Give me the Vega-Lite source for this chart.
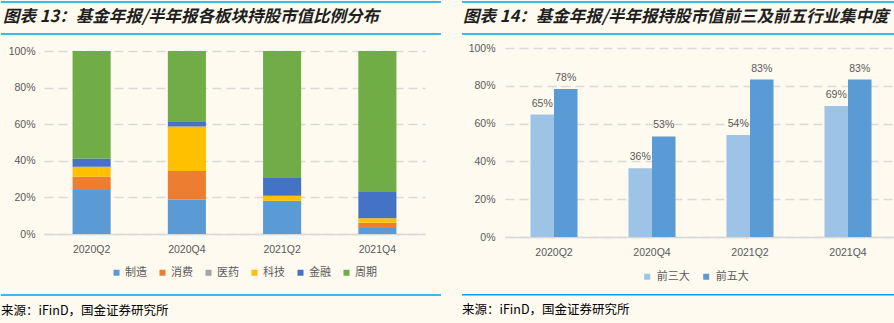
{
  "$schema": "https://vega.github.io/schema/vega-lite/v6.json",
  "background": "#FEFAF0",
  "padding": {"left": 0, "top": 1, "right": 0, "bottom": 0},
  "config": {
    "view": {"stroke": null},
    "font": "Liberation Sans, Noto Sans CJK SC",
    "axis": {"labelColor": "#595959", "labelFontSize": 10.5, "labelFont": "Liberation Sans, Noto Sans CJK SC", "title": null}
  },
  "datasets": {
    "sectors": [
      {"quarter": "2020Q2", "sector": "制造", "k": 1, "share": 0.240},
      {"quarter": "2020Q2", "sector": "消费", "k": 2, "share": 0.073},
      {"quarter": "2020Q2", "sector": "医药", "k": 3, "share": 0.0},
      {"quarter": "2020Q2", "sector": "科技", "k": 4, "share": 0.055},
      {"quarter": "2020Q2", "sector": "金融", "k": 5, "share": 0.045},
      {"quarter": "2020Q2", "sector": "周期", "k": 6, "share": 0.587},
      {"quarter": "2020Q4", "sector": "制造", "k": 1, "share": 0.188},
      {"quarter": "2020Q4", "sector": "消费", "k": 2, "share": 0.156},
      {"quarter": "2020Q4", "sector": "医药", "k": 3, "share": 0.0},
      {"quarter": "2020Q4", "sector": "科技", "k": 4, "share": 0.244},
      {"quarter": "2020Q4", "sector": "金融", "k": 5, "share": 0.028},
      {"quarter": "2020Q4", "sector": "周期", "k": 6, "share": 0.384},
      {"quarter": "2021Q2", "sector": "制造", "k": 1, "share": 0.182},
      {"quarter": "2021Q2", "sector": "消费", "k": 2, "share": 0.0},
      {"quarter": "2021Q2", "sector": "医药", "k": 3, "share": 0.0},
      {"quarter": "2021Q2", "sector": "科技", "k": 4, "share": 0.027},
      {"quarter": "2021Q2", "sector": "金融", "k": 5, "share": 0.101},
      {"quarter": "2021Q2", "sector": "周期", "k": 6, "share": 0.690},
      {"quarter": "2021Q4", "sector": "制造", "k": 1, "share": 0.033},
      {"quarter": "2021Q4", "sector": "消费", "k": 2, "share": 0.029},
      {"quarter": "2021Q4", "sector": "医药", "k": 3, "share": 0.0},
      {"quarter": "2021Q4", "sector": "科技", "k": 4, "share": 0.024},
      {"quarter": "2021Q4", "sector": "金融", "k": 5, "share": 0.147},
      {"quarter": "2021Q4", "sector": "周期", "k": 6, "share": 0.767}
    ],
    "conc": [
      {"quarter": "2020Q2", "group": "前三大", "share": 0.648},
      {"quarter": "2020Q2", "group": "前五大", "share": 0.783},
      {"quarter": "2020Q4", "group": "前三大", "share": 0.364},
      {"quarter": "2020Q4", "group": "前五大", "share": 0.532},
      {"quarter": "2021Q2", "group": "前三大", "share": 0.540},
      {"quarter": "2021Q2", "group": "前五大", "share": 0.833},
      {"quarter": "2021Q4", "group": "前三大", "share": 0.693},
      {"quarter": "2021Q4", "group": "前五大", "share": 0.833}
    ],
    "t1": [{"label": "图表 13：基金年报/半年报各板块持股市值比例分布"}],
    "t2": [{"label": "图表 14：基金年报/半年报持股市值前三及前五行业集中度"}],
    "src": [{"label": "来源：iFinD，国金证券研究所"}]
  },
  "spacing": 19,
  "resolve": {"scale": {"color": "independent", "x": "independent", "y": "independent", "xOffset": "independent"}, "legend": {"color": "independent"}},
  "hconcat": [
    {
      "spacing": 11,
      "vconcat": [
        {
          "width": 397, "height": 32,
          "data": {"name": "t1"},
          "layer": [
            {"mark": {"type": "rule", "color": "#00A2E8", "strokeWidth": 1.5},
             "encoding": {"x": {"datum": -0.1083, "scale": {"domain": [0, 1]}, "axis": null}, "x2": {"datum": 1}, "y": {"datum": 1, "scale": {"domain": [0, 1]}, "axis": null}}},
            {"mark": {"type": "rule", "color": "#00A2E8", "strokeWidth": 1.5},
             "encoding": {"x": {"datum": -0.1083}, "x2": {"datum": 1}, "y": {"datum": 0}}},
            {"mark": {"type": "text", "align": "left", "baseline": "middle", "dx": 2, "font": "Noto Sans CJK SC", "fontSize": 16.5, "fontWeight": "bold", "fontStyle": "italic", "color": "#1F1F1F"},
             "encoding": {"x": {"datum": -0.1083}, "y": {"datum": 0.53}, "text": {"field": "label"}}}
          ]
        },
        {
          "width": 381, "height": 183,
          "data": {"name": "sectors"},
          "mark": {"type": "bar"},
          "encoding": {
            "x": {"field": "quarter", "type": "nominal", "sort": null,
                  "scale": {"paddingInner": 0.6, "paddingOuter": 0.3},
                  "axis": {"labelAngle": 0, "ticks": false, "domainColor": "#D9D9D9", "domainWidth": 1.5, "labelPadding": 10}},
            "y": {"field": "share", "type": "quantitative", "stack": "zero",
                  "scale": {"domain": [0, 1]},
                  "axis": {"format": ".0%", "values": [0, 0.2, 0.4, 0.6, 0.8, 1], "domain": false, "ticks": false, "tickSize": 0,
                           "grid": true, "gridDash": [9, 5], "gridColor": "#D9D9D9", "gridWidth": 1.3, "labelPadding": 9,
                           "minExtent": 43, "maxExtent": 43}},
            "color": {"field": "sector", "type": "nominal",
                      "scale": {"domain": ["制造", "消费", "医药", "科技", "金融", "周期"],
                                "range": ["#5B9BD5", "#ED7D31", "#A5A5A5", "#FFC000", "#4472C4", "#70AD47"]},
                      "legend": {"title": null, "orient": "none", "legendX": 67, "legendY": 265, "direction": "horizontal",
                                 "symbolType": "square", "symbolSize": 36, "symbolStrokeWidth": 0,
                                 "labelFont": "Noto Sans CJK SC", "labelFontSize": 11, "labelColor": "#595959",
                                 "labelOffset": 3, "columnPadding": 10, "padding": 0}},
            "order": {"field": "k", "type": "quantitative"}
          }
        },
        {
          "width": 397, "height": 60,
          "data": {"name": "src"},
          "layer": [
            {"mark": {"type": "rule", "color": "#00A2E8", "strokeWidth": 1.5},
             "encoding": {"x": {"datum": -0.1083, "scale": {"domain": [0, 1]}, "axis": null}, "x2": {"datum": 1}, "y": {"datum": 0.515, "scale": {"domain": [0, 1]}, "axis": null}}},
            {"mark": {"type": "text", "align": "left", "baseline": "middle", "font": "Noto Sans CJK SC", "fontSize": 12.5, "color": "#000000"},
             "encoding": {"x": {"datum": -0.1083}, "y": {"datum": 0.258}, "text": {"field": "label"}}}
          ]
        }
      ]
    },
    {
      "spacing": 8,
      "vconcat": [
        {
          "width": 392, "height": 32,
          "data": {"name": "t2"},
          "layer": [
            {"mark": {"type": "rule", "color": "#00A2E8", "strokeWidth": 1.5},
             "encoding": {"x": {"datum": -0.1097, "scale": {"domain": [0, 1]}, "axis": null}, "x2": {"datum": 1}, "y": {"datum": 1, "scale": {"domain": [0, 1]}, "axis": null}}},
            {"mark": {"type": "rule", "color": "#00A2E8", "strokeWidth": 1.5},
             "encoding": {"x": {"datum": -0.1097}, "x2": {"datum": 1}, "y": {"datum": 0}}},
            {"mark": {"type": "text", "align": "left", "baseline": "middle", "dx": 1, "font": "Noto Sans CJK SC", "fontSize": 16.5, "fontWeight": "bold", "fontStyle": "italic", "color": "#1F1F1F"},
             "encoding": {"x": {"datum": -0.1097}, "y": {"datum": 0.53}, "text": {"field": "label"}}}
          ]
        },
        {
          "width": 392, "height": 189,
          "data": {"name": "conc"},
          "encoding": {
            "x": {"field": "quarter", "type": "nominal", "sort": null,
                  "scale": {"paddingInner": 0.52, "paddingOuter": 0.26},
                  "axis": {"labelAngle": 0, "ticks": false, "domainColor": "#D9D9D9", "domainWidth": 1.5, "labelPadding": 10}},
            "xOffset": {"field": "group", "type": "nominal", "sort": ["前三大", "前五大"], "scale": {"paddingInner": 0, "paddingOuter": 0}},
            "y": {"field": "share", "type": "quantitative",
                  "scale": {"domain": [0, 1]},
                  "axis": {"format": ".0%", "values": [0, 0.2, 0.4, 0.6, 0.8, 1], "domain": false, "ticks": false, "tickSize": 0,
                           "grid": true, "gridDash": [9, 5], "gridColor": "#D9D9D9", "gridWidth": 1.3, "labelPadding": 10,
                           "minExtent": 43, "maxExtent": 43}}
          },
          "layer": [
            {"mark": {"type": "bar"},
             "encoding": {"color": {"field": "group", "type": "nominal",
                                    "scale": {"domain": ["前三大", "前五大"], "range": ["#9DC3E6", "#5B9BD5"]},
                                    "legend": {"title": null, "orient": "none", "legendX": 136.7, "legendY": 269, "direction": "horizontal",
                                               "symbolType": "square", "symbolSize": 36, "symbolStrokeWidth": 0,
                                               "labelFont": "Noto Sans CJK SC", "labelFontSize": 11, "labelColor": "#595959",
                                               "labelOffset": 4, "columnPadding": 11, "padding": 0}}}},
            {"mark": {"type": "text", "baseline": "alphabetic", "dy": -8, "fontSize": 10.5, "font": "Liberation Sans", "color": "#595959"},
             "encoding": {"text": {"field": "share", "type": "quantitative", "format": ".0%"}}}
          ]
        },
        {
          "width": 392, "height": 60,
          "data": {"name": "src"},
          "layer": [
            {"mark": {"type": "rule", "color": "#00A2E8", "strokeWidth": 1.5},
             "encoding": {"x": {"datum": -0.1097, "scale": {"domain": [0, 1]}, "axis": null}, "x2": {"datum": 1}, "y": {"datum": 0.521, "scale": {"domain": [0, 1]}, "axis": null}}},
            {"mark": {"type": "text", "align": "left", "baseline": "middle", "font": "Noto Sans CJK SC", "fontSize": 12.5, "color": "#000000"},
             "encoding": {"x": {"datum": -0.1097}, "y": {"datum": 0.265}, "text": {"field": "label"}}}
          ]
        }
      ]
    }
  ]
}
